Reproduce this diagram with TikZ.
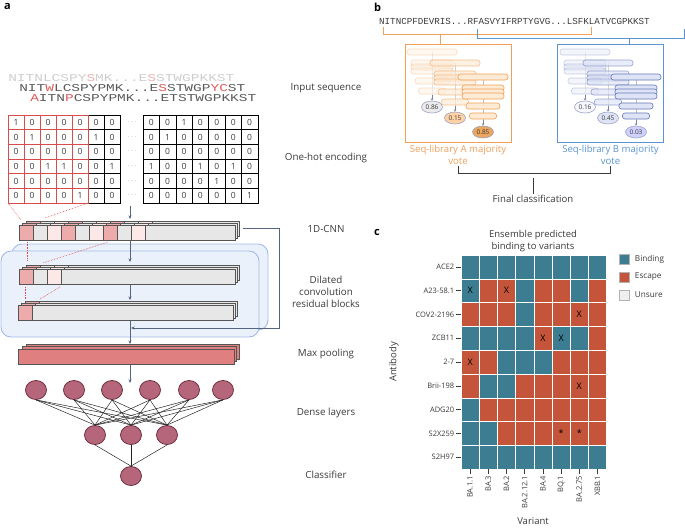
\documentclass[tikz,border=0pt]{standalone}
\usepackage{fontspec}
\setmainfont{Open Sans}
\newfontfamily\seqfont{Liberation Mono}
\usetikzlibrary{arrows.meta,shapes.geometric,positioning}

\definecolor{bd}{HTML}{3D7D92}
\definecolor{es}{HTML}{C5553A}
\definecolor{unsurecol}{HTML}{EFEFEF}
\definecolor{orangeA}{HTML}{F1A05A}
\definecolor{blueB}{HTML}{5C94D3}
\definecolor{treeA}{HTML}{F0A055}
\definecolor{treeAfill}{HTML}{FDEBD6}
\definecolor{treeB}{HTML}{6676B8}
\definecolor{treeBfill}{HTML}{DEE4F6}
\definecolor{voteedge}{HTML}{9AA2C4}
\definecolor{pinkcell}{HTML}{EDABAB}
\definecolor{palepink}{HTML}{FDE8E8}
\definecolor{cellgray}{HTML}{E7E7E7}
\definecolor{stripgray}{HTML}{555555}
\definecolor{poolfill}{HTML}{E07F7F}
\definecolor{neuronfill}{HTML}{B5667A}
\definecolor{neuronedge}{HTML}{6E2E40}
\definecolor{resfill}{HTML}{EAF1FB}
\definecolor{resedge}{HTML}{A2BBE3}
\definecolor{slate}{HTML}{56657F}
\definecolor{labelgray}{HTML}{3A3A3A}
\definecolor{gridred}{HTML}{D84C4C}
\definecolor{seqfaint}{HTML}{CDCDCD}
\definecolor{seqpink}{HTML}{F0B0B0}
\definecolor{seqdark}{HTML}{5A5A5A}
\definecolor{seqred}{HTML}{E05A5A}

\tikzset{
  flow/.style={draw=slate, line width=0.6pt, -{Stealth[length=3.5pt,width=3pt]}},
  strip/.style={draw=stripgray, line width=0.6pt},
  reddot/.style={draw=gridred, densely dotted, line width=0.6pt},
  resblock/.style={draw=resedge, fill=resfill, line width=0.9pt, rounded corners=10pt},
  bit/.style={draw, line width=0.6pt, minimum height=14.67pt, inner sep=0pt, outer sep=0pt,
    font=\fontsize{8.5}{8.5}\selectfont, text=labelgray},
  neuron/.style={ellipse, draw=neuronedge, line width=0.8pt, fill=neuronfill,
    minimum width=21pt, minimum height=19pt, inner sep=0pt},
  dense/.style={draw=black!85, line width=0.5pt},
  steplabel/.style={font=\fontsize{9.8}{12}\selectfont, text=labelgray, align=center},
  seqline/.style={font=\seqfont\fontsize{10.5}{10.5}\selectfont, inner sep=0pt, anchor=base west, xscale=1.38, transform shape},
  panel/.style={font=\bfseries\fontsize{11}{11}\selectfont, anchor=north west, inner sep=0pt},
  libbox/.style={draw, fill=white, line width=0.9pt, minimum width=106pt, minimum height=98pt},
  libtext/.style={font=\fontsize{9.6}{11.5}\selectfont, align=center, inner sep=1pt},
  barA/.style={draw=treeA, fill=treeAfill, line width=0.6pt, rounded corners=2.5pt},
  barB/.style={draw=treeB, fill=treeBfill, line width=0.6pt, rounded corners=2.5pt},
  treestem/.style={draw=gray!50, line width=0.4pt},
  vote/.style={ellipse, draw=voteedge, line width=0.6pt, minimum width=21pt, minimum height=12pt,
    inner sep=0pt, font=\fontsize{6.5}{6.5}\selectfont, text=labelgray},
  voteflow/.style={draw=slate!80, line width=0.5pt, -{Stealth[length=2.5pt,width=2.5pt]}},
  bracketk/.style={draw=labelgray, line width=0.7pt},
  hcell/.style={draw=white, line width=0.5pt, minimum width=18.2pt, minimum height=23.8pt,
    inner sep=0pt, outer sep=0pt, label={[font=\fontsize{9}{9}\selectfont, inner sep=0pt]center:#1}},
  tick/.style={draw=labelgray, line width=0.5pt},
  ticklab/.style={font=\fontsize{7.5}{7.5}\selectfont, text=labelgray, inner sep=1.5pt},
  legsq/.style={draw=gray!60, line width=0.5pt, minimum size=10pt, inner sep=0pt},
}

% one stack of three feature strips: x, y, width, cell colours
\newcommand{\convstack}[4]{%
  \foreach \k in {2,1,0} {
    \draw[strip, fill=cellgray] ({#1+3.5*\k},{#2-2*\k}) rectangle ++({#3-1.5*\k},15);
    \foreach \cc [count=\i from 0] in {#4}
      \draw[strip, fill=\cc] ({#1+3.5*\k+14*\i},{#2-2*\k}) rectangle ++(14,15);
  }
}

% one-hot block: name, left x, cell width, red columns, rows
\newcommand{\onehot}[5]{%
  \foreach \row [count=\r] in {#5} {
    \foreach \v [count=\c] in \row {
      \ifnum\c>#4 \def\bc{black}\else\def\bc{gridred}\fi
      \node[bit, draw=\bc, minimum width=#3pt] (#1-\r-\c) at ({#2+(\c-0.5)*#3},{115+(\r-0.5)*14.67}) {\v};
    }
  }
}

% one tree of a library: x, top y, opacity, value, oval fill, library, name
\newcommand{\votetree}[7]{%
  \begin{scope}[opacity=#3]
    \draw[treestem] (#1,#2) -- (#1,{#2+44});
    \foreach \dy/\w in {0/50,11/42,15/42,19/42,29/34,39/27}
      \draw[bar#6] ({#1-\w/2},{#2+\dy-3}) rectangle ({#1+\w/2},{#2+\dy+3});
  \end{scope}
  \node[vote, fill=#5] (#7) at (#1,{#2+55}) {#4};
  \draw[voteflow] (#1,{#2+43}) -- (#7.north);
}

\begin{document}
\begin{tikzpicture}[x=1pt,y=-1pt]
\useasboundingbox (0,0) rectangle (685,528);

%% ---- panel a ----
\node[panel] (pa) at (4,3) {a};

\node[seqline, text=seqfaint] (seq1) at (8,81)
  {NITNLCSPY{\color{seqpink}S}MK...E{\color{seqpink}S}STWGPKKST};
\node[seqline, text=seqdark] (seq2) at (19,91)
  {NIT{\color{seqred}W}LCSPYPMK...E{\color{seqred}S}STWGP{\color{seqred}YC}ST};
\node[seqline, text=seqdark] (seq3) at (30,101)
  {{\color{seqred}A}ITN{\color{seqred}P}CSPYPMK...ETSTWGPKKST};

\onehot{oh}{8}{16}{5}{{1,0,0,0,0,0,0},{0,1,0,0,0,1,0},{0,0,0,0,0,0,0},
  {0,0,1,1,0,0,1},{0,0,0,0,0,0,0},{0,0,0,0,1,0,0}}
\onehot{ohr}{143}{16.4}{0}{{0,0,1,0,0,0,0},{0,1,0,0,0,0,0},{0,0,0,0,0,0,0},
  {1,0,0,1,0,1,0},{0,0,0,0,1,0,0},{0,0,0,0,0,0,1}}
\draw[gridred, line width=0.8pt] (oh-1-1.north west) rectangle (oh-6-5.south east);
\foreach \r in {1,...,6}
  \node[font=\tiny, text=labelgray] (dots-\r) at (132,{115+(\r-0.5)*14.67}) {$\cdots$};

% 1D-CNN
\convstack{19}{225}{216}{pinkcell,cellgray,palepink,pinkcell,cellgray,palepink,pinkcell,cellgray,palepink}

% dilated residual blocks
\draw[resblock] (12,244) rectangle (268,330);
\draw[resblock] (1,251) rectangle (259,337);
\convstack{19}{269}{216}{pinkcell,cellgray,palepink}
\convstack{18}{305}{215}{pinkcell}

% max pooling
\foreach \k in {2,1,0}
  \draw[strip, fill=poolfill] ({18+4*\k},{349-2.5*\k}) rectangle ++({216-1.5*\k},15);

% receptive field guides
\draw[reddot] (oh-6-1.south west) -- (21,220);
\draw[reddot] (oh-6-5.south east) -- (45,218);
\draw[reddot] (27,242) -- (27,261);
\draw[reddot] (108,242) -- (43,263);
\draw[reddot] (25,287) -- (25,299);
\draw[reddot] (60,287) -- (40,299);

% flow
\coordinate (ohout) at (130,206);
\coordinate (cnnin) at (130,219);
\coordinate (cnnout) at (130,241);
\coordinate (resin) at (130,262);
\coordinate (resmid) at (130,285);
\coordinate (resmidin) at (130,300);
\coordinate (resout) at (130,321);
\coordinate (poolin) at (130,344);
\coordinate (poolout) at (130,365);
\coordinate (densein) at (130,383);
\coordinate (skipstart) at (243,228);
\coordinate (skipend) at (131,328);
\draw[flow] (ohout) -- (cnnin);
\draw[flow] (cnnout) -- (resin);
\draw[flow] (resmid) -- (resmidin);
\draw[flow] (resout) -- (poolin);
\draw[flow] (poolout) -- (densein);
\draw[flow] (skipstart) -- (279,228) |- (skipend);

% dense layers
\foreach \x [count=\i] in {36,74,112,150,189,223}
  \node[neuron] (in\i) at (\x,390) {};
\foreach \x [count=\j] in {95,131,167}
  \node[neuron] (hid\j) at (\x,435) {};
\node[neuron] (cls) at (131,476) {};
\foreach \i in {1,...,6}
  \foreach \j in {1,2,3}
    \draw[dense] (in\i.south) -- (hid\j.north);
\foreach \j in {1,2,3}
  \draw[dense] (hid\j.south) -- (cls.north);

% stage labels
\node[steplabel] (lb-input) at (326,88) {Input sequence};
\node[steplabel] (lb-onehot) at (326,158) {One-hot encoding};
\node[steplabel] (lb-cnn) at (326,229) {1D-CNN};
\node[steplabel] (lb-res) at (326,292) {Dilated\\convolution\\residual blocks};
\node[steplabel] (lb-pool) at (326,354) {Max pooling};
\node[steplabel] (lb-dense) at (326,413) {Dense layers};
\node[steplabel] (lb-cls) at (326,475) {Classifier};

%% ---- panel b ----
\node[panel] (pb) at (374,3) {b};
\node[font=\seqfont\fontsize{9.2}{9.2}\selectfont, text=labelgray, inner sep=0pt, anchor=base west]
  (seqb) at (379,24) {NITNCPFDEVRIS...RFASVYIFRPTYGVG...LSFKLATVCGPKKST};

\node[libbox, draw=orangeA] (boxA) at (458,93) {};
\node[libbox, draw=blueB] (boxB) at (610.5,93) {};
\draw[orangeA, line width=0.8pt] (383,27) -- (383,34) -- (591,34) -- (591,27);
\draw[orangeA, line width=0.8pt] (440,34) -- (440,34 |- boxA.north);
\draw[blueB, line width=0.8pt] (477,29) -- (477,38) -- (684,38) -- (684,29);
\draw[blueB, line width=0.8pt] (629,38) -- (629,38 |- boxB.north);

\votetree{432}{52}{0.35}{0.86}{black!8}{A}{vA1}
\votetree{455}{63}{0.65}{0.15}{orange!35}{A}{vA2}
\votetree{483}{77}{1}{0.85}{orange!60!brown!70}{A}{vA3}
\votetree{585}{52}{0.35}{0.16}{blue!3}{B}{vB1}
\votetree{608}{63}{0.65}{0.45}{treeBfill}{B}{vB2}
\votetree{636}{77}{1}{0.03}{blue!18}{B}{vB3}

\node[libtext, text=orangeA, below=2pt of boxA] (voteA) {Seq-library A majority\\vote};
\node[libtext, text=blueB, below=2pt of boxB] (voteB) {Seq-library B majority\\vote};
\node[libtext, text=labelgray] (final) at (533,199) {Final classification};
\draw[bracketk] (voteA.south) -- ++(0,8) -| (voteB.south);
\draw[bracketk] (533,178) -- (final.north);

%% ---- panel c ----
\node[panel] (pc) at (374,229) {c};
\node[font=\fontsize{9.5}{11.5}\selectfont, text=labelgray, align=center] (htitle) at (533,241)
  {Ensemble predicted\\binding to variants};

\foreach \row [count=\r] in {
  {bd/,bd/,bd/,bd/,bd/,bd/,bd/,bd/},
  {bd/X,es/,es/X,bd/,es/,es/,bd/,es/},
  {es/,es/,es/,bd/,es/,es/,es/X,es/},
  {bd/,bd/,bd/,bd/,es/X,bd/X,bd/,es/},
  {es/X,es/,bd/,bd/,bd/,es/,es/,es/},
  {es/,bd/,bd/,es/,es/,es/,es/X,es/},
  {bd/,es/,es/,es/,es/,es/,es/,es/},
  {bd/,bd/,es/,es/,es/,es/*,es/*,es/},
  {bd/,bd/,bd/,bd/,bd/,bd/,bd/,bd/}} {
  \foreach \fc/\mk [count=\c] in \row
    \node[hcell=\mk, fill=\fc] (h-\r-\c) at ({461+(\c-0.5)*18.2},{255+(\r-0.5)*23.8}) {};
}

\foreach \abname [count=\r] in {ACE2,A23-58.1,COV2-2196,ZCB11,2-7,Brii-198,ADG20,S2X259,S2H97}
  \draw[tick] (h-\r-1.west) -- ++(-5,0) node[ticklab, anchor=east] {\abname};
\foreach \vname [count=\c] in {BA.1.1,BA.3,BA.2,BA.2.12.1,BA.4,BQ.1,BA.2.75,XBB.1}
  \draw[tick] (h-9-\c.south) -- ++(0,5) node[ticklab, rotate=90, anchor=east] {\vname};

\node[font=\fontsize{9.5}{9.5}\selectfont, text=labelgray, rotate=90] (ylab) at (394,362) {Antibody};
\node[font=\fontsize{9.5}{9.5}\selectfont, text=labelgray] (xlab) at (533,521) {Variant};

\node[legsq, fill=bd] (lg1) at (624,259) {};
\node[legsq, fill=es] (lg2) at (624,277) {};
\node[legsq, fill=unsurecol] (lg3) at (624,295) {};
\node[ticklab, font=\fontsize{8.2}{8.2}\selectfont, right=4pt of lg1] (lt1) {Binding};
\node[ticklab, font=\fontsize{8.2}{8.2}\selectfont, right=4pt of lg2] (lt2) {Escape};
\node[ticklab, font=\fontsize{8.2}{8.2}\selectfont, right=4pt of lg3] (lt3) {Unsure};

\end{tikzpicture}
\end{document}
